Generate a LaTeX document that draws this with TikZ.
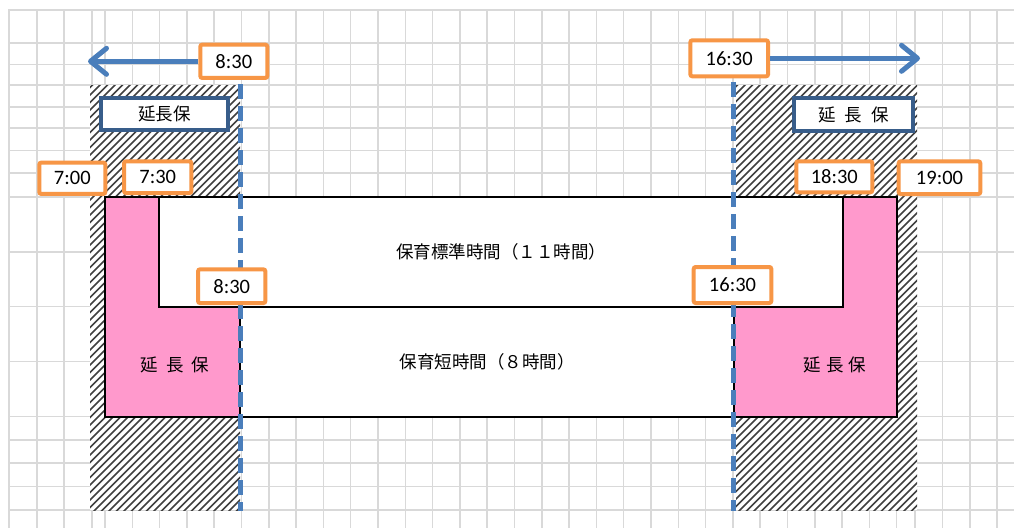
\documentclass[tikz,border=0pt]{standalone}
\usepackage{fontspec}
\newfontfamily\calfont{Carlito}
\newfontfamily\jpfont{Noto Sans CJK JP}
\usetikzlibrary{arrows.meta}
\definecolor{gridgray}{HTML}{D9D9D9}
\definecolor{orangeC}{HTML}{F79646}
\definecolor{navyC}{HTML}{385D8A}
\definecolor{blueC}{HTML}{4A7EBB}
\definecolor{pinkC}{HTML}{FF99CC}
\newcommand\jpf{\jpfont\fontsize{17.5}{21}\selectfont}
\newcommand\numf{\calfont\fontsize{20.5}{23}\selectfont}
\tikzset{
  gridl/.style={draw=gridgray, line width=1.5pt},
  hatchln/.style={draw=black!75, line width=1.5pt},
  obox/.style={draw=orangeC, line width=4pt, fill=white, rounded corners=2pt, inner sep=0pt, font=\numf},
  bbox/.style={draw=navyC, line width=4pt, fill=white, inner sep=0pt, font=\jpf},
  wbox/.style={draw=black, line width=2pt, fill=white, inner sep=0pt, font=\jpf},
  pinkarea/.style={draw=black, line width=2pt, fill=pinkC},
  plain/.style={inner sep=0pt, font=\jpf},
  dashln/.style={draw=blueC, line width=5pt, dash pattern=on 15pt off 7pt},
  arrowln/.style={draw=blueC, line width=5pt, -{Straight Barb[length=16pt,width=26pt,round]}}
}
\begin{document}
\begin{tikzpicture}[x=1pt,y=-1pt]
\useasboundingbox (0,0) rectangle (1014,528);
\fill[white] (0,0) rectangle (1014,528);
% grid
\foreach \yy in {10,43,64.5,85,107,128,150.5,173,197,252,306.7,361.7,416.5,440,463,486.5,510}
  \draw[gridl] (8,\yy) -- (1014,\yy);
\foreach \xx in {9,37,64,92,915,942.5,970,997}
  \draw[gridl] (\xx,10) -- (\xx,528);
\foreach \k in {0,...,29}
  \draw[gridl] ({105+27.3*\k},10) -- ({105+27.3*\k},528);
% hatched areas
\begin{scope}
  \clip (90,85) rectangle (240,510);
  \fill[white] (90,85) rectangle (240,510);
  \foreach \c in {170,177.5,...,760}
    \draw[hatchln] ({\c-515},515) -- ({\c-80},80);
\end{scope}
\begin{scope}
  \clip (736,85) rectangle (917,510);
  \fill[white] (736,85) rectangle (917,510);
  \foreach \c in {815,822.5,...,1435}
    \draw[hatchln] ({\c-515},515) -- ({\c-80},80);
\end{scope}
% pink extension areas and time boxes
\draw[pinkarea] (105,197) rectangle (897,416.5);
\node[wbox, minimum width=684pt, minimum height=109.7pt] (std) at (501,251.85) {保育標準時間（１１時間）};
\node[wbox, minimum width=494pt, minimum height=109.8pt] (short) at (487,361.6) {保育短時間（８時間）};
\node[plain] (pinkL) at (175,365) {延\kern8pt長\kern8pt保};
\node[plain] (pinkR) at (835,365) {延\kern5pt長\kern5pt保};
% dashed lines
\coordinate (dL1) at (240.7,84);
\coordinate (dL2) at (240.7,511);
\coordinate (dR1) at (733.5,82);
\coordinate (dR2) at (733.5,511);
\draw[dashln] (dL1) -- (dL2);
\draw[dashln] (dR1) -- (dR2);
% navy label boxes
\node[bbox, minimum width=127pt, minimum height=32pt] (extL) at (164.5,113.7) {延長保};
\node[bbox, minimum width=118.7pt, minimum height=33.6pt] (extR) at (853.7,114.5) {延\kern9pt長\kern9pt保};
% orange time boxes
\node[obox, minimum width=67pt, minimum height=33.3pt] (t830a) at (233.8,61.3) {8:30};
\node[obox, minimum width=77.7pt, minimum height=36pt] (t1630a) at (729.2,58.3) {16:30};
\node[obox, minimum width=66pt, minimum height=31.3pt] (t700) at (72.3,178.3) {7:00};
\node[obox, minimum width=67.3pt, minimum height=31.7pt] (t730) at (157.7,177.2) {7:30};
\node[obox, minimum width=76pt, minimum height=31pt] (t1830) at (834.3,176.8) {18:30};
\node[obox, minimum width=81.6pt, minimum height=32.7pt] (t1900) at (939.5,177.7) {19:00};
\node[obox, minimum width=67.3pt, minimum height=33.7pt] (t830b) at (231.7,286.2) {8:30};
\node[obox, minimum width=77.6pt, minimum height=36pt] (t1630b) at (732.5,285) {16:30};
% arrows
\coordinate (tipL) at (88,61.3);
\coordinate (tipR) at (920,58.3);
\draw[arrowln] (t830a.west) -- (tipL);
\draw[arrowln] (t1630a.east) -- (tipR);
\end{tikzpicture}
\end{document}
